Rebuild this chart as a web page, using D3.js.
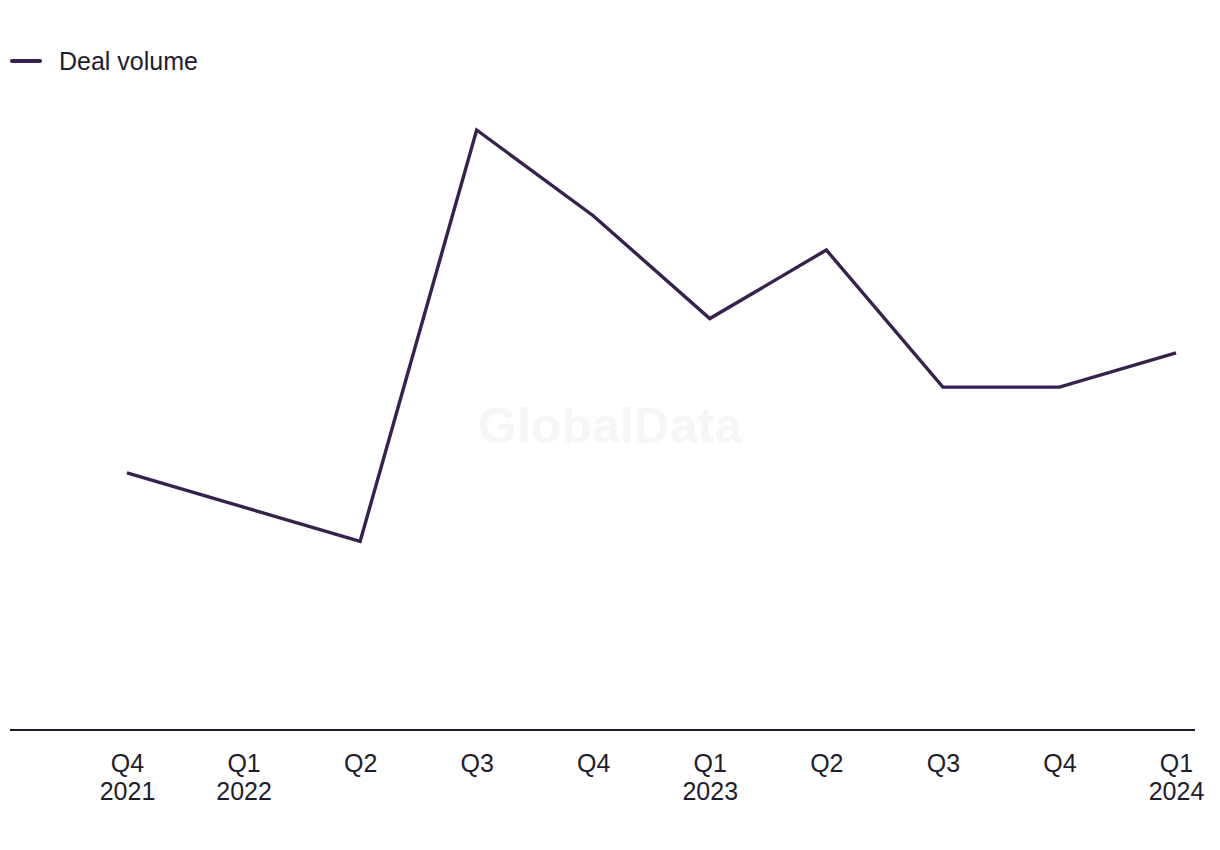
<!DOCTYPE html>
<html>
<head>
<meta charset="utf-8">
<script src="https://cdn.jsdelivr.net/npm/d3@7/dist/d3.min.js"></script>
<style>
  html, body { margin: 0; padding: 0; background: #fff; }
  svg { display: block; font-family: "Liberation Sans", Arial, sans-serif; }
</style>
</head>
<body>
<svg id="chart" width="1220" height="850"></svg>
<script>
const quarters = ["Q4", "Q1", "Q2", "Q3", "Q4", "Q1", "Q2", "Q3", "Q4", "Q1"];
const years = ["2021", "2022", "", "", "", "2023", "", "", "", "2024"];
const dealVolume = [15, 13, 11, 35, 30, 24, 28, 20, 20, 22];
const seriesName = "Deal volume";

const svg = d3.select("#chart");
const idx = d3.range(quarters.length);

const x = d3.scalePoint().domain(idx).range([127, 1176]);
const y = d3.scaleLinear().domain([0, 35]).range([730, 130]);

// watermark
svg.append("text")
  .attr("x", 610).attr("y", 443)
  .attr("text-anchor", "middle")
  .attr("font-size", 50).attr("font-weight", "bold")
  .attr("fill", "#f6f6f6")
  .text("GlobalData");

// x axis
const xAxis = d3.axisBottom(x).tickSize(0).tickFormat(() => "");
const gx = svg.append("g").attr("transform", "translate(0,730)").call(xAxis);
gx.select(".domain").remove();
svg.append("line")
  .attr("x1", 10).attr("x2", 1195).attr("y1", 730).attr("y2", 730)
  .attr("stroke", "#1b1a2c").attr("stroke-width", 2);

gx.selectAll(".tick text").remove();
gx.selectAll(".tick").each(function(d) {
  const t = d3.select(this).append("text")
    .attr("text-anchor", "middle")
    .attr("fill", "#1e1d2d")
    .attr("font-size", 25);
  t.append("tspan").attr("x", 0).attr("y", 42).text(quarters[d]);
  if (years[d]) t.append("tspan").attr("x", 0).attr("y", 70).text(years[d]);
});

// line
const line = d3.line().x(i => x(i)).y(i => y(dealVolume[i]));
svg.append("path")
  .datum(idx)
  .attr("d", line)
  .attr("fill", "none")
  .attr("stroke", "#36214f")
  .attr("stroke-width", 3.4)
  .attr("stroke-linejoin", "miter");

// legend
svg.append("line")
  .attr("x1", 12).attr("x2", 40).attr("y1", 61).attr("y2", 61)
  .attr("stroke", "#36214f").attr("stroke-width", 4).attr("stroke-linecap", "round");
svg.append("text")
  .attr("x", 59).attr("y", 70)
  .attr("fill", "#1e1d2d")
  .attr("font-size", 25)
  .text(seriesName);
</script>
</body>
</html>
